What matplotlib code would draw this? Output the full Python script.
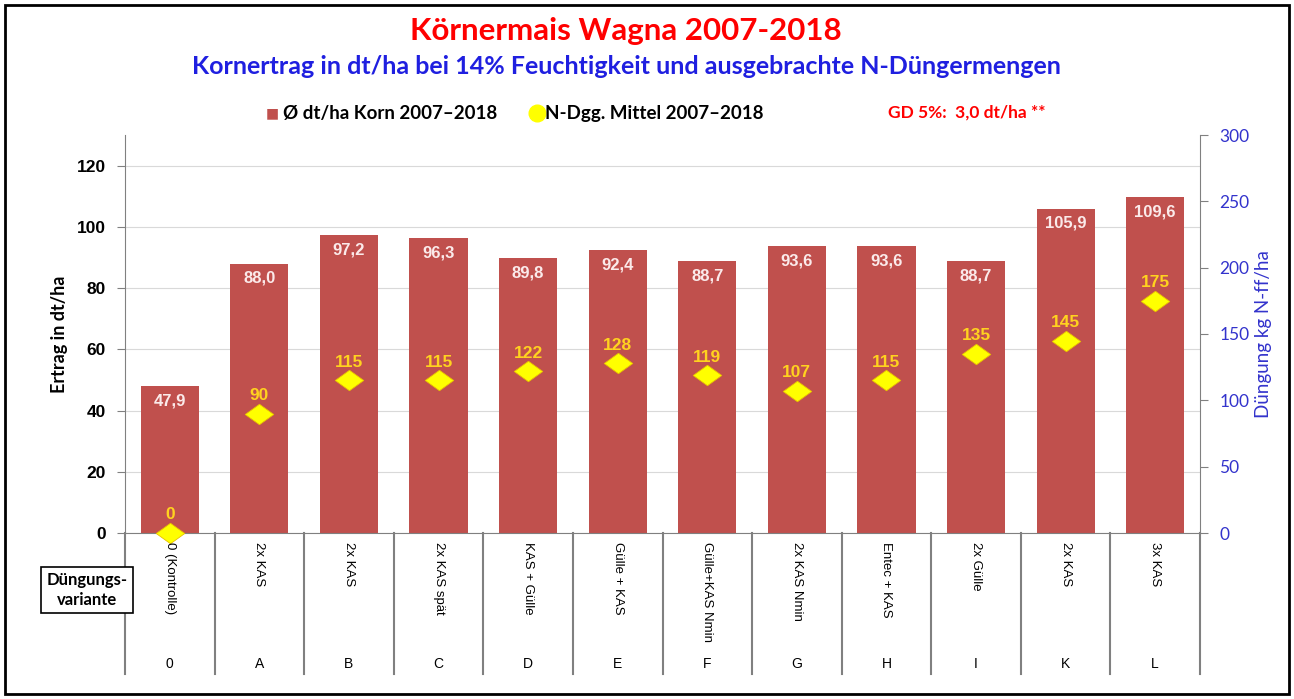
import matplotlib.pyplot as plt
import numpy as np
from matplotlib.patches import Rectangle
from matplotlib.path import Path

# Daten
varianten = ["0", "A", "B", "C", "D", "E", "F", "G", "H", "I", "K", "L"]
beschreibung = ["0 (Kontrolle)", "2x KAS", "2x KAS", "2x KAS spät", "KAS + Gülle",
                "Gülle + KAS", "Gülle+KAS Nmin", "2x KAS Nmin", "Entec + KAS",
                "2x Gülle", "2x KAS", "3x KAS"]
ertrag = [47.9, 88.0, 97.2, 96.3, 89.8, 92.4, 88.7, 93.6, 93.6, 88.7, 105.9, 109.6]
n_duengung = [0, 90, 115, 115, 122, 128, 119, 107, 115, 135, 145, 175]

plt.rcParams['font.family'] = ['Lato', 'DejaVu Sans']
arial = ['Liberation Sans', 'DejaVu Sans']
narrow = ['Liberation Sans Narrow', 'Liberation Sans', 'DejaVu Sans']

W, H = 1294, 699
fig = plt.figure(figsize=(W / 100, H / 100), dpi=100)
ax = fig.add_axes([125 / W, 1 - 533 / H, 1075 / W, 398 / H])
ax2 = ax.twinx()

x = np.arange(len(varianten))
ax.bar(x, ertrag, width=0.65, color='#C0504D', zorder=2)
ax.set_xlim(-0.5, len(varianten) - 0.5)
ax.set_ylim(0, 130)
ax.set_yticks(np.arange(0, 121, 20))
ax.tick_params(axis='y', labelsize=12.5, length=6, color='#808080', pad=8)
for lbl in ax.get_yticklabels():
    lbl.set_fontweight('bold')
    lbl.set_family(arial)
ax.set_xticks([])
ax.grid(axis='y', color='#D9D9D9', linewidth=0.8, zorder=0)
ax.set_ylabel("Ertrag in dt/ha", fontsize=13, fontweight='bold', labelpad=6)
ax.spines['top'].set_visible(False)
ax.spines['right'].set_visible(False)
ax.spines['left'].set_color('#808080')
ax.spines['bottom'].set_color('#808080')

for xi, v in zip(x, ertrag):
    ax.text(xi, v - 2.3, f"{v:.1f}".replace('.', ','), ha='center', va='top',
            color='#FBEAEA', fontsize=12, fontweight='bold', family=arial, zorder=4)

ax2.set_ylim(0, 300)
ax2.set_yticks(np.arange(0, 301, 50))
ax2.tick_params(axis='y', labelsize=12.5, labelcolor='#3333CC', color='#808080', length=6, pad=8)
ax2.spines['right'].set_color('#808080')
for s in ['top', 'left', 'bottom']:
    ax2.spines[s].set_visible(False)
ax2.set_ylabel("Düngung kg N-ff/ha", fontsize=13.5, color='#3333CC', labelpad=4)

raute = Path([(-1, 0), (0, 0.72), (1, 0), (0, -0.72), (-1, 0)],
             [Path.MOVETO, Path.LINETO, Path.LINETO, Path.LINETO, Path.CLOSEPOLY])
ax2.scatter(x, n_duengung, marker=raute, s=420, color='#FFFF00', edgecolor='#E8C000',
            linewidth=0.6, zorder=5, clip_on=False)
for xi, v in zip(x, n_duengung):
    ax2.text(xi, v + 8, f"{v}", ha='center', va='bottom', color='#FFD21F',
             fontsize=12.5, fontweight='bold', family=arial, zorder=6)

# Kategorie-Tabelle unter der Achse
y0 = 1 - 533 / H
y_bot = 1 - 674 / H
step = 1075 / W / 12
left = 125 / W
for i in range(13):
    xl = left + i * step
    fig.add_artist(plt.Line2D([xl, xl], [y0, y_bot], color='#808080', linewidth=1.5))
for i, (v, b) in enumerate(zip(varianten, beschreibung)):
    xc = left + (i + 0.5) * step
    fig.text(xc, 1 - 542 / H, b, rotation=-90, ha='center', va='top', fontsize=9.5,
             family=narrow)
    fig.text(xc, 1 - 664 / H, v, ha='center', va='center', fontsize=10, family=arial)

fig.text(87 / W, 1 - 590 / H, "Düngungs-\nvariante", ha='center', va='center',
         fontsize=12, fontweight='bold', linespacing=1.35,
         bbox=dict(boxstyle='square,pad=0.3', facecolor='white', edgecolor='black', linewidth=1.2))

# Titel
fig.text(626 / W, 1 - 31 / H, "Körnermais Wagna 2007-2018", ha='center', va='center',
         color='#FF0000', fontsize=22.5, fontweight='bold')
fig.text(626 / W, 1 - 66 / H, "Kornertrag in dt/ha bei 14% Feuchtigkeit und ausgebrachte N-Düngermengen",
         ha='center', va='center', color='#1F1FE0', fontsize=18, fontweight='bold')

# Legende
ly = 1 - 113 / H
fig.text(266 / W, ly, "■", color='#C0504D', fontsize=10, ha='left', va='center')
fig.text(283 / W, ly, "Ø dt/ha Korn 2007–2018", fontsize=13.5, fontweight='bold', ha='left', va='center')
fig.add_artist(plt.Line2D([537 / W], [ly], marker='o', markersize=12, color='#FFFF00',
                          linestyle='none'))
fig.text(545 / W, ly, "N-Dgg. Mittel 2007–2018", fontsize=13.5, fontweight='bold', ha='left', va='center')
fig.text(888 / W, ly, "GD 5%:  3,0 dt/ha **", fontsize=12.5, fontweight='bold', color='#FF0000',
         ha='left', va='center')

# Rahmen
fig.add_artist(Rectangle((5 / W, 5 / H), 1284 / W, 689 / H, transform=fig.transFigure,
                         fill=False, edgecolor='black', linewidth=2))

fig.savefig("out.png", dpi=100)
